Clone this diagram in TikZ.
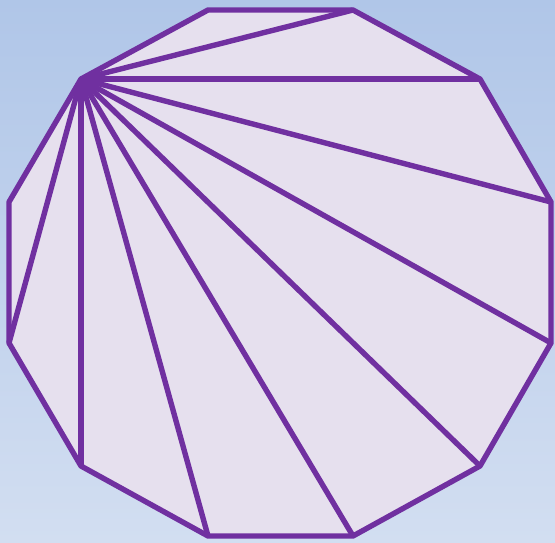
\documentclass[tikz,border=0pt]{standalone}
\definecolor{edgepurple}{RGB}{112,48,160}
\definecolor{facefill}{RGB}{230,224,238}
\definecolor{bgtop}{RGB}{176,198,232}
\definecolor{bgbottom}{RGB}{210,222,241}
\begin{document}
\begin{tikzpicture}[x=1pt, y=-1pt, line width=5.4pt, line join=round]
  \shade[top color=bgtop, bottom color=bgbottom] (0,0) rectangle (555,542);
  \useasboundingbox (0,0) rectangle (555,542);
  \coordinate (v1) at (208,10);
  \coordinate (v2) at (353,10);
  \coordinate (v3) at (480,79);
  \coordinate (v4) at (551,202);
  \coordinate (v5) at (551,343);
  \coordinate (v6) at (480,466);
  \coordinate (v7) at (353,536);
  \coordinate (v8) at (208,536);
  \coordinate (v9) at (81,466);
  \coordinate (v10) at (9,343);
  \coordinate (v11) at (9,202);
  \coordinate (v12) at (81,79);
  \filldraw[fill=facefill, draw=edgepurple] (v1) -- (v2) -- (v3) -- (v4) -- (v5) -- (v6)
    -- (v7) -- (v8) -- (v9) -- (v10) -- (v11) -- (v12) -- cycle;
  \foreach \k in {2,...,10}
    \draw[edgepurple] (v12) -- (v\k);
\end{tikzpicture}
\end{document}
